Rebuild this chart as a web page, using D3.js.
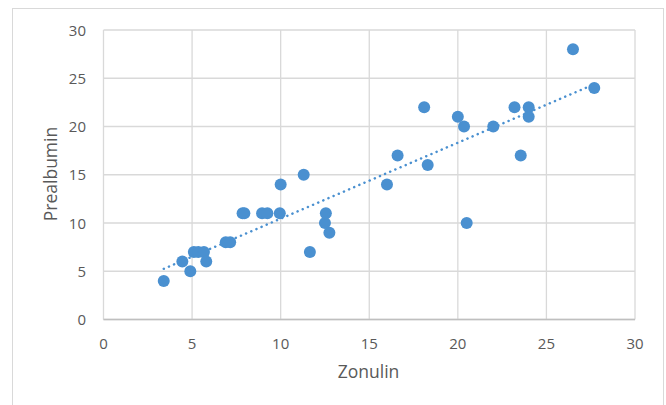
<!DOCTYPE html>
<html><head><meta charset="utf-8">
<script src="https://cdn.jsdelivr.net/npm/d3@7/dist/d3.min.js"></script>
<style>body{margin:0;background:#fff;}svg{display:block;font-family:"Open Sans","Noto Sans",sans-serif;}</style>
</head><body>
<svg id="c" width="666" height="405"></svg>
<script>
const zonulin = [3.4,4.45,4.9,5.1,5.35,5.67,5.8,6.9,7.15,7.85,7.95,8.95,9.25,9.95,10,11.3,11.65,12.5,12.55,12.75,16,16.6,18.1,18.3,20,20.35,20.5,22,23.2,23.55,24,24,26.5,27.7];
const prealbumin = [4,6,5,7,7,7,6,8,8,11,11,11,11,11,14,15,7,10,11,9,14,17,22,16,21,20,10,20,22,17,22,21,28,24];
const xTicks = [0,5,10,15,20,25,30];
const yTicks = [0,5,10,15,20,25,30];

const svg = d3.select("#c");
const m = {l:103.5, r:635, t:30, b:319.5};
const x = d3.scaleLinear().domain([0,30]).range([m.l,m.r]);
const y = d3.scaleLinear().domain([0,30]).range([m.b,m.t]);

// chart frame
svg.append("rect").attr("x",12.5).attr("y",8.5).attr("width",651).attr("height",420)
  .attr("fill","none").attr("stroke","#d9d9d9");

// gridlines
svg.append("g").selectAll("line.h").data(yTicks).join("line")
  .attr("x1",m.l).attr("x2",m.r).attr("y1",d=>y(d)).attr("y2",d=>y(d))
  .attr("stroke","#d9d9d9").attr("stroke-width",1.3);
svg.append("g").selectAll("line.v").data(xTicks).join("line")
  .attr("y1",m.t).attr("y2",m.b).attr("x1",d=>x(d)).attr("x2",d=>x(d))
  .attr("stroke","#d9d9d9").attr("stroke-width",1.3);
// bottom axis line
svg.append("line").attr("x1",m.l).attr("x2",m.r).attr("y1",y(0)).attr("y2",y(0))
  .attr("stroke","#bfbfbf").attr("stroke-width",1.5);

// tick labels
svg.append("g").selectAll("text").data(xTicks).join("text")
  .attr("x",d=>x(d)).attr("y",348.5).attr("text-anchor","middle")
  .attr("font-size",15).attr("fill","#595959").text(d=>d);
svg.append("g").selectAll("text").data(yTicks).join("text")
  .attr("x",86).attr("y",d=>y(d)+5.5).attr("text-anchor","end")
  .attr("font-size",15).attr("fill","#595959").text(d=>d);

// axis titles
svg.append("text").attr("x",368.5).attr("y",378).attr("text-anchor","middle")
  .attr("font-size",17.5).attr("fill","#595959").text("Zonulin");
svg.append("text").attr("transform","translate(57,174) rotate(-90)").attr("text-anchor","middle")
  .attr("font-size",17.5).attr("fill","#595959").text("Prealbumin");

// trendline (least squares)
const n = zonulin.length;
const mx = d3.mean(zonulin), my = d3.mean(prealbumin);
let sxy=0, sxx=0;
for(let i=0;i<n;i++){sxy+=(zonulin[i]-mx)*(prealbumin[i]-my); sxx+=(zonulin[i]-mx)**2;}
const slope = sxy/sxx, icpt = my - slope*mx;
const [x0,x1] = d3.extent(zonulin);
svg.append("line").attr("x1",x(x0)).attr("y1",y(icpt+slope*x0)).attr("x2",x(x1)).attr("y2",y(icpt+slope*x1))
  .attr("stroke","#4a90d0").attr("stroke-width",2.5).attr("stroke-dasharray","0.1 5.5").attr("stroke-linecap","round");

// points
svg.append("g").selectAll("circle").data(zonulin.map((v,i)=>[v,prealbumin[i]])).join("circle")
  .attr("cx",d=>x(d[0])).attr("cy",d=>y(d[1])).attr("r",6).attr("fill","#4a90d0");
</script>
</body></html>
